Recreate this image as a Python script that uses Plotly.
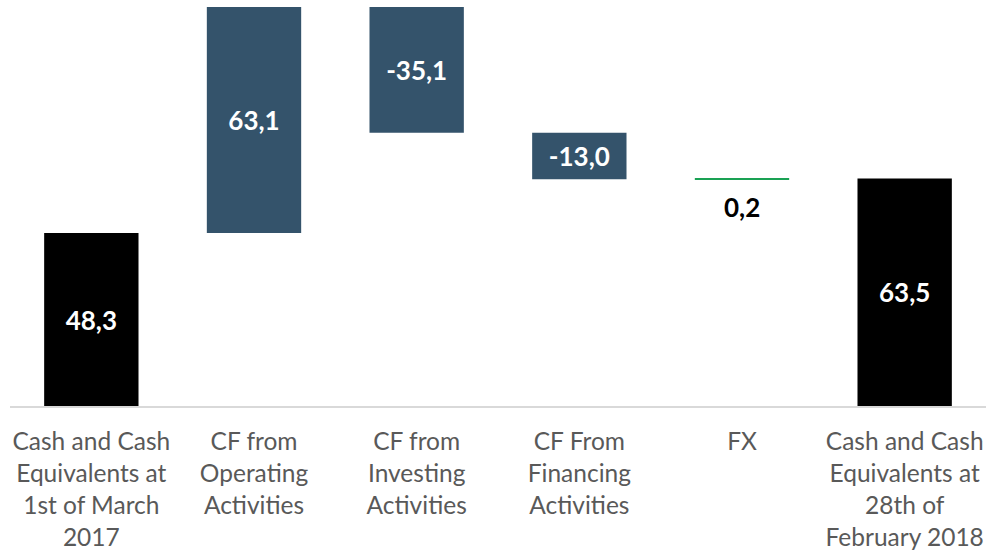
import plotly.graph_objs as go

categories = ['Cash and Cash<br>Equivalents at<br>1st of March<br>2017',
              'CF from<br>Operating<br>Activities',
              'CF from<br>Investing<br>Activities',
              'CF From<br>Financing<br>Activities',
              'FX',
              'Cash and Cash<br>Equivalents at<br>28th of<br>February 2018']
values = [48.3, 63.1, -35.1, -13.0, 0.2, 63.5]
kinds = ['total', 'delta', 'delta', 'delta', 'delta', 'total']

# floating bars: base is the running total before each step
bases, heights = [], []
running = 0
for v, k in zip(values, kinds):
    if k == 'total':
        bases.append(0)
        heights.append(v)
        running = v
    else:
        if v >= 0:
            bases.append(running)
        else:
            bases.append(running + v)
        heights.append(abs(v))
        running += v

colors = []
for v, k in zip(values, kinds):
    if k == 'total':
        colors.append('#000000')
    elif abs(v) < 1:
        colors.append('#1aa154')
    else:
        colors.append('#34536b')

labels = [('%.1f' % v).replace('.', ',') for v in values]
inside = [lab if abs(v) >= 1 else '' for lab, v in zip(labels, values)]

font = 'Lato, Open Sans, sans-serif'

trace = go.Bar(x=categories, y=heights, base=bases, marker=dict(color=colors, line=dict(width=0)),
               text=inside, textposition='inside', insidetextanchor='middle',
               textfont=dict(family=font, size=26, color='white', weight='bold'),
               width=0.58, hoverinfo='skip')

layout = go.Layout(width=986, height=552, margin=dict(l=10, r=0, t=7, b=146),
                   plot_bgcolor='white', paper_bgcolor='white', showlegend=False,
                   font=dict(family=font),
                   xaxis=dict(showline=True, linecolor='#d9d9d9', linewidth=1.5, ticks='',
                              tickfont=dict(family=font, size=24.5, color='#595959'),
                              ticklabelstandoff=13, automargin=False),
                   yaxis=dict(range=[0, 111.4], visible=False, showgrid=False, zeroline=False))
fig = go.Figure(data=[trace], layout=layout)

# small steps get their label below the bar
for c, b, h, v, lab in zip(categories, bases, heights, values, labels):
    if abs(v) < 1:
        fig.add_annotation(x=c, y=b, text='<b>' + lab + '</b>', showarrow=False, yanchor='top', yshift=-10,
                           font=dict(family=font, size=26, color='black'))

fig.write_html("out.html", config={'displayModeBar': False},
               post_script="document.body.style.margin='0px';")
